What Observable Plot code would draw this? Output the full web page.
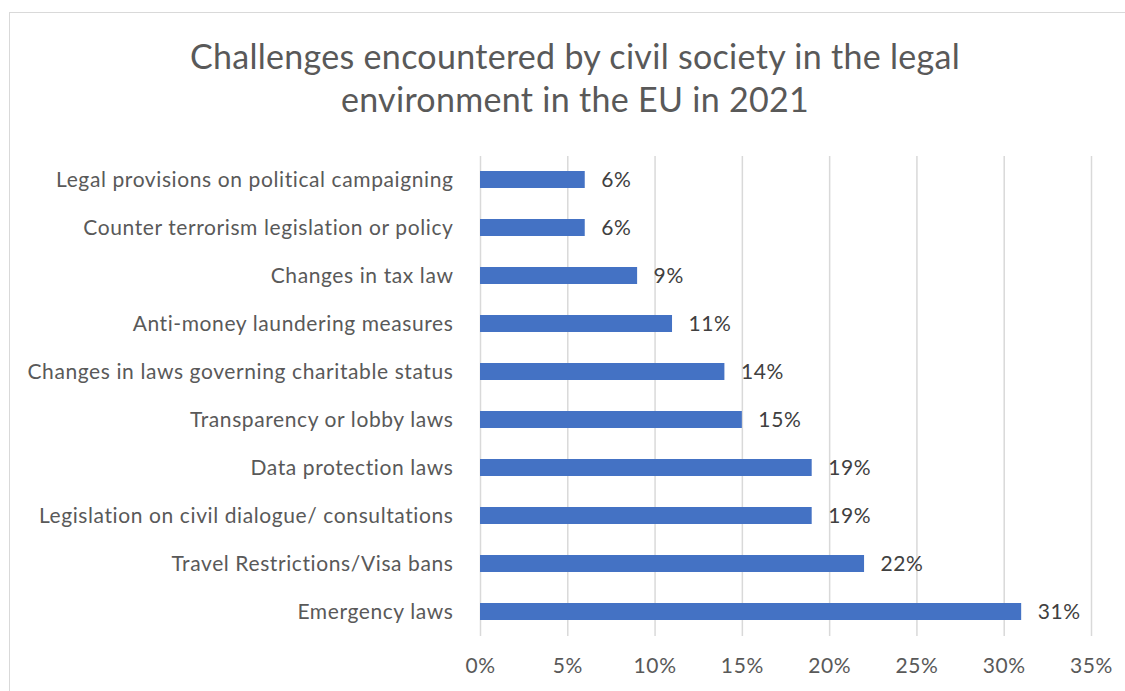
<!DOCTYPE html>
<html>
<head>
<meta charset="utf-8">
<script src="https://cdn.jsdelivr.net/npm/d3@7"></script>
<script src="https://cdn.jsdelivr.net/npm/@observablehq/plot@0.6"></script>
<style>
  html, body { margin: 0; padding: 0; background: #fff; overflow: hidden; width: 1125px; height: 691px; }
  #frame { position: absolute; left: 9px; top: 12px; width: 1300px; height: 900px; border: 1.5px solid #d9d9d9; }
  #title { position: absolute; left: 0; top: 34px; width: 1150px; text-align: center; font-family: Lato, sans-serif; font-size: 34px; letter-spacing: 0.3px; line-height: 43px; color: #595959; }
  #chart { position: absolute; left: 0; top: 140px; }
</style>
</head>
<body>
<div id="frame"></div>
<div id="title">Challenges encountered by civil society in the legal<br>environment in the EU in 2021</div>
<div id="chart"></div>
<script>
const categories = [
  "Legal provisions on political campaigning",
  "Counter terrorism legislation or policy",
  "Changes in tax law",
  "Anti-money laundering measures",
  "Changes in laws governing charitable status",
  "Transparency or lobby laws",
  "Data protection laws",
  "Legislation on civil dialogue/ consultations",
  "Travel Restrictions/Visa bans",
  "Emergency laws"
];
const values = [6, 6, 9, 11, 14, 15, 19, 19, 22, 31];
const xTicks = [0, 5, 10, 15, 20, 25, 30, 35];

const data = categories.map((c, i) => ({category: c, value: values[i]}));
const font = "Lato, sans-serif";

const chart = Plot.plot({
  width: 1125,
  height: 551,
  marginLeft: 480,
  marginRight: 34,
  marginTop: 16,
  marginBottom: 55,
  style: {fontFamily: font, fontSize: "21px", letterSpacing: "0.6px", color: "#595959", background: "transparent"},
  x: {domain: [0, 35], ticks: xTicks, tickFormat: d => d + "%", label: null},
  y: {domain: categories, paddingInner: 0.64, paddingOuter: 0.32, label: null},
  marks: [
    Plot.gridX(xTicks, {stroke: "#d9d9d9", strokeWidth: 1.5, strokeOpacity: 1}),
    Plot.barX(data, {x: "value", y: "category", fill: "#4472C4"}),
    Plot.text(data, {x: "value", y: "category", text: d => d.value + "%", textAnchor: "start", dx: 16, fill: "#404040", fontSize: 21}),
    Plot.axisX({ticks: xTicks, tickFormat: d => d + "%", tickSize: 0, tickPadding: 22, fontSize: 21, fill: "#595959", label: null}),
    Plot.axisY({tickSize: 0, tickPadding: 27, fontSize: 21, fill: "#595959", label: null})
  ]
});
document.getElementById("chart").appendChild(chart);
</script>
</body>
</html>
